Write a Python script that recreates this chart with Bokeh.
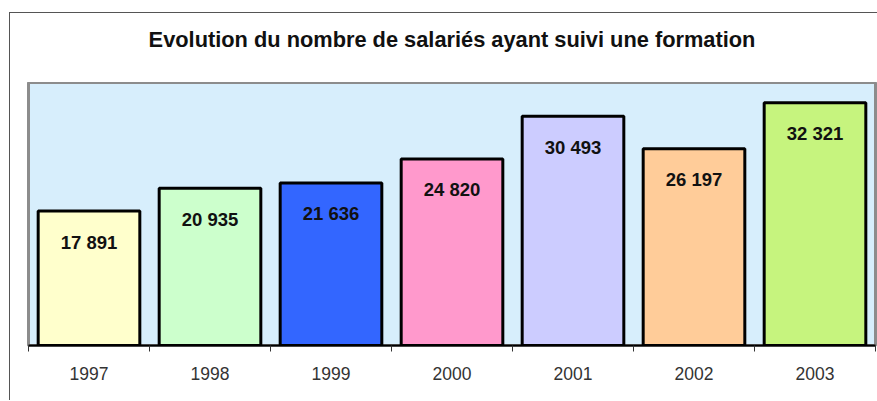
from bokeh.plotting import figure
from bokeh.layouts import column
from bokeh.models import Range1d, FixedTicker, ColumnDataSource, InlineStyleSheet, Label
from bokeh.core.properties import value
from bokeh.embed import file_html
from bokeh.resources import INLINE

title_text = "Evolution du nombre de salariés ayant suivi une formation"
years = ["1997", "1998", "1999", "2000", "2001", "2002", "2003"]
salaries = [17891, 20935, 21636, 24820, 30493, 26197, 32321]
colors = ["#FFFFCC", "#CCFFCC", "#3366FF", "#FF99CC", "#CCCCFF", "#FFCC99", "#C6F47E"]

xs = [i + 0.5 for i in range(len(years))]
labels = [f"{v:,}".replace(",", " ") for v in salaries]

src = ColumnDataSource(dict(x=xs, top=salaries, color=colors, label=labels))

FONT = "Liberation Sans"
W = 867
TITLE_H = 69

# --- title strip (its own small figure, so the text is not clipped) ---
t = figure(width=W, height=TITLE_H, output_backend="svg", toolbar_location=None,
           x_range=Range1d(0, len(years)), y_range=Range1d(0, TITLE_H),
           min_border_left=18, min_border_right=2, min_border_top=0, min_border_bottom=0)
t.axis.visible = False
t.grid.visible = False
t.outline_line_color = None
t.background_fill_color = "white"
t.border_fill_color = "white"
t.add_layout(Label(x=len(years) / 2, y=TITLE_H - 26, text=title_text,
                   text_align="center", text_baseline="middle",
                   text_font=FONT, text_font_size="21.8px",
                   text_font_style="bold", text_color="#111111"))

# --- main chart ---
p = figure(width=W, height=387 - TITLE_H, output_backend="svg", toolbar_location=None,
           x_range=Range1d(0, len(years)), y_range=Range1d(0, 35000),
           min_border_left=18, min_border_right=2,
           min_border_top=0, min_border_bottom=55)

p.background_fill_color = "#D7EEFC"
p.border_fill_color = "white"
p.outline_line_color = "#8C8C8C"
p.outline_line_width = 3

p.vbar(x="x", top="top", bottom=0, width=0.84, fill_color="color",
       line_color="black", line_width=3, source=src)

p.text(x="x", y="top", text="label", source=src, text_align="center",
       text_baseline="middle", y_offset=31, text_font=value(FONT),
       text_font_size="18.5px", text_font_style="bold", text_color="#111111")

p.xgrid.visible = False
p.ygrid.visible = False
p.yaxis.visible = False

ax = p.xaxis[0]
ax.ticker = FixedTicker(ticks=xs, minor_ticks=list(range(len(years) + 1)))
ax.major_label_overrides = {x: y for x, y in zip(xs, years)}
ax.major_tick_line_color = None
ax.major_tick_out = 0
ax.major_tick_in = 0
ax.minor_tick_line_color = "#333333"
ax.minor_tick_line_width = 1
ax.minor_tick_out = 6
ax.minor_tick_in = 0
ax.axis_line_color = "black"
ax.axis_line_width = 2
ax.major_label_standoff = 15
ax.major_label_text_font = FONT
ax.major_label_text_font_size = "17.5px"
ax.major_label_text_color = "#333333"

layout = column(t, p, spacing=0)
layout.margin = (12, 0, 0, 9)
layout.stylesheets = [InlineStyleSheet(css=":host { border-left: 1px solid #555555; border-top: 1px solid #555555; }")]

open("out.html", "w").write(file_html(layout, INLINE))
